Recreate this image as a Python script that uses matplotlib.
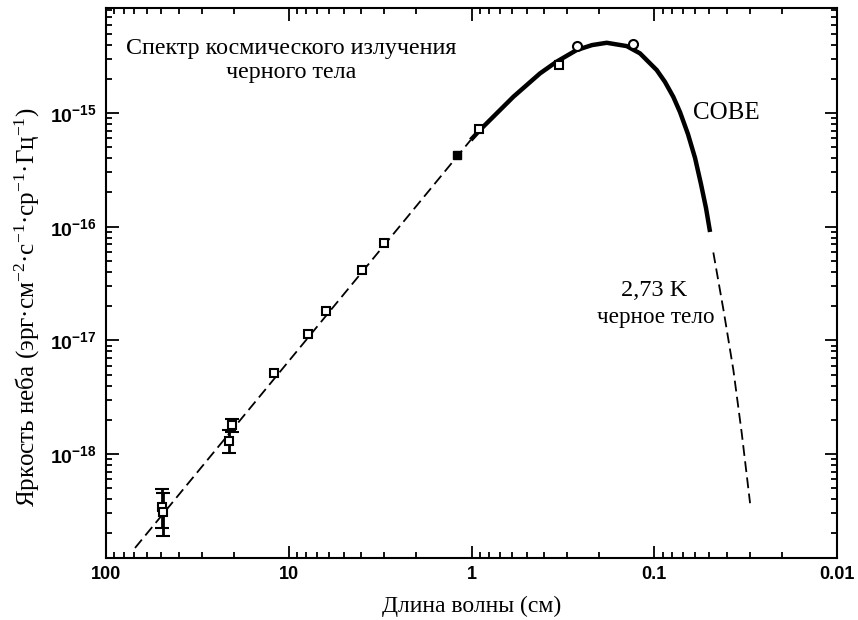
"""
Spectrum of the cosmic microwave background (log-log, wavelength reversed)
"""

import matplotlib
matplotlib.use('Agg')
import matplotlib.pyplot as plt

plt.rcParams['font.family'] = ['Liberation Serif', 'DejaVu Serif']
plt.rcParams['mathtext.fontset'] = 'custom'
plt.rcParams['mathtext.rm'] = 'Liberation Serif'
plt.rcParams['mathtext.it'] = 'Liberation Serif:italic'
plt.rcParams['mathtext.bf'] = 'Liberation Sans:bold'

# ── Data (wavelength in cm, brightness in erg cm^-2 s^-1 sr^-1 Hz^-1) ──
# Rayleigh-Jeans dashed line (long wavelengths)
rj_wave = [69.4, 1.01]
rj_bright = [1.49e-19, 5.79e-16]

# COBE solid curve
cobe_wave = [1.01, 0.899, 0.590, 0.422, 0.342, 0.266, 0.219, 0.182, 0.1415,
             0.1197, 0.0970, 0.0874, 0.0787, 0.0723, 0.0654, 0.0598, 0.0555,
             0.0521, 0.0495]
cobe_bright = [5.79e-16, 7.09e-16, 1.39e-15, 2.23e-15, 2.83e-15, 3.58e-15,
               3.96e-15, 4.15e-15, 3.88e-15, 3.35e-15, 2.39e-15, 1.88e-15,
               1.39e-15, 1.02e-15, 6.53e-16, 4.02e-16, 2.37e-16, 1.46e-16,
               8.98e-17]

# Wien tail (dashed, short wavelengths)
wien_wave = [0.0475, 0.0415, 0.0369, 0.0332, 0.0299]
wien_bright = [5.93e-17, 1.73e-17, 5.48e-18, 1.52e-18, 3.69e-19]

# measurements with error bars
err_wave = [49.6, 48.6, 20.5, 21.1]
err_bright = [3.42e-19, 3.09e-19, 1.80e-18, 1.30e-18]
err_low = [2.23e-19, 1.90e-19, 1.56e-18, 1.02e-18]
err_high = [4.92e-19, 4.54e-19, 2.03e-18, 1.63e-18]

# open squares
sq_wave = [12.05, 7.87, 6.28, 3.99, 3.02, 0.914, 0.332]
sq_bright = [5.19e-18, 1.13e-17, 1.80e-17, 4.16e-17, 7.23e-17, 7.19e-16, 2.64e-15]

# filled square
fill_wave = [1.205]
fill_bright = [4.27e-16]

# open circles
circ_wave = [0.265, 0.1315]
circ_bright = [3.88e-15, 4.05e-15]

xtick_vals = [100, 10, 1, 0.1, 0.01]
xtick_labels = ['100', '10', '1', '0.1', '0.01']
ytick_vals = [1e-18, 1e-17, 1e-16, 1e-15]
ytick_labels = [r'$\mathbf{10^{-18}}$', r'$\mathbf{10^{-17}}$',
                r'$\mathbf{10^{-16}}$', r'$\mathbf{10^{-15}}$']

# ── Figure ──
fig = plt.figure(figsize=(8.58, 6.2), dpi=100)
ax = fig.add_axes([106 / 858, 1 - 558 / 620, (837 - 106) / 858, (558 - 8) / 620])
ax.set_xscale('log')
ax.set_yscale('log')
ax.set_xlim(100, 0.01)
ax.set_ylim(10 ** -18.915, 10 ** -14.076)

dash = (0, (6, 3))
ax.plot(rj_wave, rj_bright, color='black', lw=1.3, linestyle=dash)
ax.plot(wien_wave, wien_bright, color='black', lw=1.3, linestyle=dash)
ax.plot(cobe_wave, cobe_bright, color='black', lw=3.2, solid_capstyle='butt',
        solid_joinstyle='round')

yerr = [[b - l for b, l in zip(err_bright, err_low)],
        [h - b for b, h in zip(err_bright, err_high)]]
ax.errorbar(err_wave, err_bright, yerr=yerr, fmt='s', mfc='white', mec='black',
            ms=5.5, mew=1.5, ecolor='black', elinewidth=2, capsize=5, capthick=2,
            zorder=4)
ax.plot(sq_wave, sq_bright, 's', mfc='white', mec='black', ms=5.5, mew=1.5, zorder=4)
ax.plot(fill_wave, fill_bright, 's', mfc='black', mec='black', ms=5.5, zorder=4)
ax.plot(circ_wave, circ_bright, 'o', mfc='white', mec='black', ms=6.5, mew=1.5, zorder=4)

# ── Ticks ──
ax.set_xticks(xtick_vals)
ax.set_xticklabels(xtick_labels)
ax.set_yticks(ytick_vals)
ax.set_yticklabels(ytick_labels)
ax.tick_params(which='both', direction='in', top=True, right=True, width=1.3)
ax.tick_params(which='major', length=9)
ax.tick_params(which='minor', length=4.5)
ax.tick_params(axis='x', pad=6)
ax.tick_params(axis='y', pad=7)
for lab in ax.get_xticklabels():
    lab.set_fontfamily('Liberation Sans')
    lab.set_fontweight('bold')
    lab.set_fontsize(13)
for lab in ax.get_yticklabels():
    lab.set_fontsize(14)
for sp in ax.spines.values():
    sp.set_linewidth(1.5)

# ── Labels and annotations ──
ax.set_xlabel('Длина волны (см)', fontsize=17, labelpad=9)
ax.set_ylabel('Яркость неба (эрг·см$^{-2}$·с$^{-1}$·ср$^{-1}$·Гц$^{-1}$)',
              fontsize=18)
ax.yaxis.set_label_coords(-0.087, 0.456)

ax.text(0.254, 0.904, 'Спектр космического излучения\nчерного тела',
        transform=ax.transAxes, ha='center', va='center', fontsize=17.3,
        linespacing=1.2)
ax.text(0.849, 0.809, 'COBE', transform=ax.transAxes, ha='center', va='center',
        fontsize=18)
ax.text(0.750, 0.487, '2,73 K', transform=ax.transAxes, ha='center', va='center',
        fontsize=17.5)
ax.text(0.752, 0.438, 'черное тело', transform=ax.transAxes, ha='center',
        va='center', fontsize=16.7)

plt.savefig('out.png', dpi=100)
